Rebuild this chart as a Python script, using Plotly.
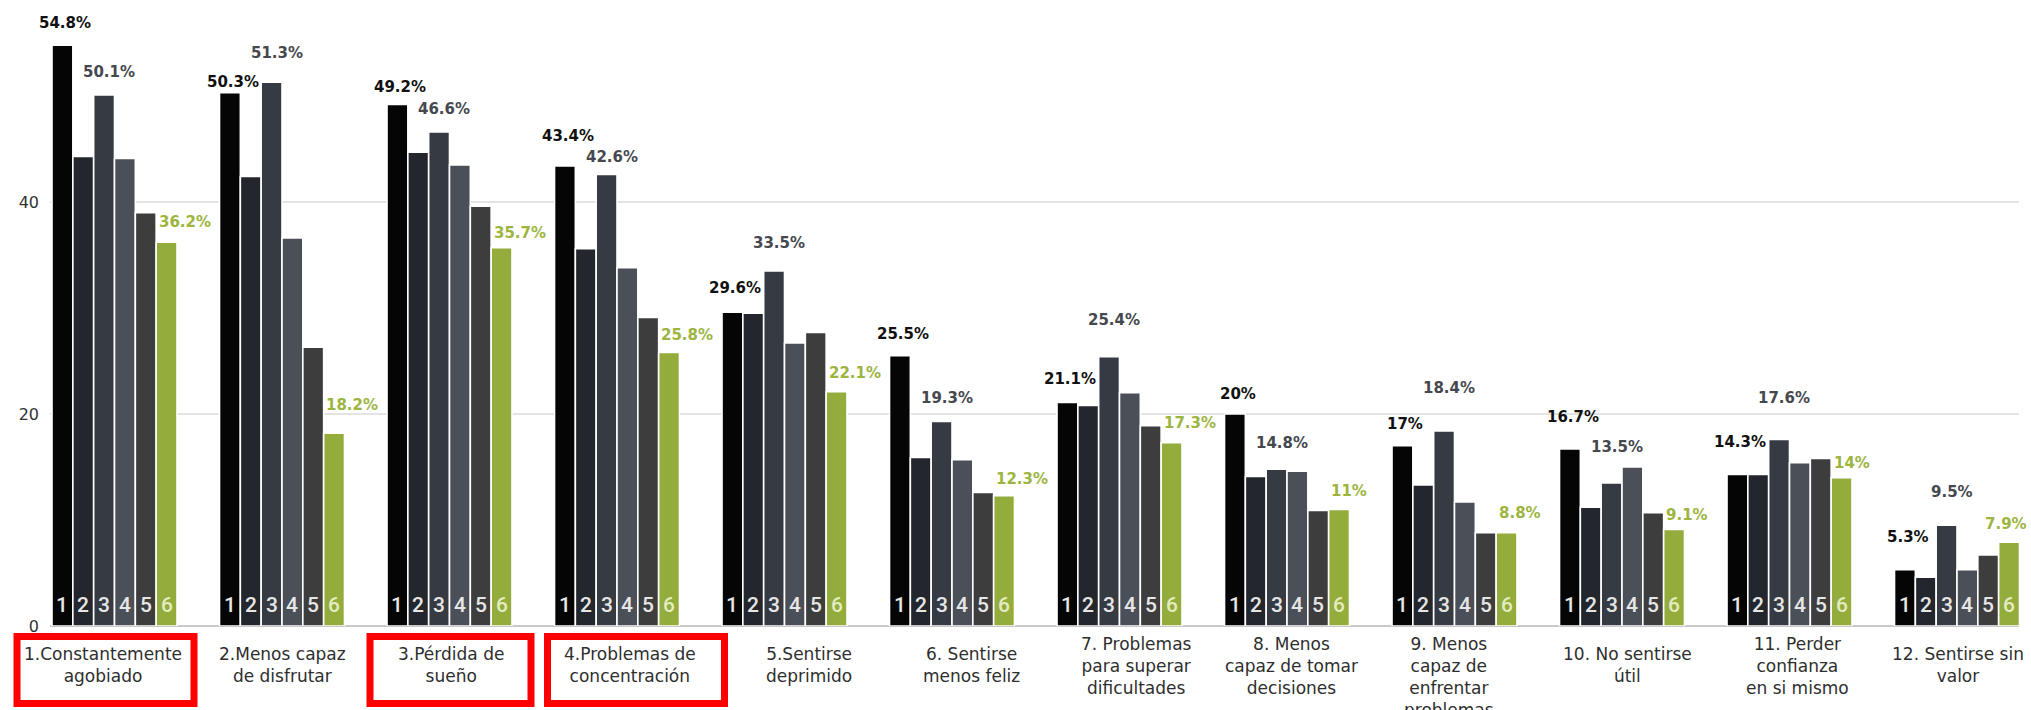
import plotly.graph_objects as go

# Twelve symptoms, six survey groups each (percent of respondents)
categories = [
    "1.Constantemente<br>agobiado",
    "2.Menos capaz<br>de disfrutar",
    "3.Pérdida de<br>sueño",
    "4.Problemas de<br>concentración",
    "5.Sentirse<br>deprimido",
    "6. Sentirse<br>menos feliz",
    "7. Problemas<br>para superar<br>dificultades",
    "8. Menos<br>capaz de tomar<br>decisiones",
    "9. Menos<br>capaz de<br>enfrentar<br>problemas",
    "10. No sentirse<br>útil",
    "11. Perder<br>confianza<br>en si mismo",
    "12. Sentirse sin<br>valor",
]
series_names = ["1", "2", "3", "4", "5", "6"]

group1 = [54.8, 50.3, 49.2, 43.4, 29.6, 25.5, 21.1, 20.0, 17.0, 16.7, 14.3, 5.3]
group2 = [44.3, 42.4, 44.7, 35.6, 29.5, 15.9, 20.8, 14.1, 13.3, 11.2, 14.3, 4.6]
group3 = [50.1, 51.3, 46.6, 42.6, 33.5, 19.3, 25.4, 14.8, 18.4, 13.5, 17.6, 9.5]
group4 = [44.1, 36.6, 43.5, 33.8, 26.7, 15.7, 22.0, 14.6, 11.7, 15.0, 15.4, 5.3]
group5 = [39.0, 26.3, 39.6, 29.1, 27.7, 12.6, 18.9, 10.9, 8.8, 10.7, 15.8, 6.7]
group6 = [36.2, 18.2, 35.7, 25.8, 22.1, 12.3, 17.3, 11.0, 8.8, 9.1, 14.0, 7.9]

y_ticks = [0, 20, 40]
highlighted = [0, 2, 3]  # categories framed in red

series = [group1, group2, group3, group4, group5, group6]
colors = ["#050505", "#23262c", "#363a42", "#4b4f57", "#3e3d3e", "#93ac3b"]
digit_colors = ["#e6e6e6"] * 5 + ["#e3ebc0"]

# How far (px) each value label floats above its bar
lift_s1 = [22, 11, 17, 30, 24, 22, 23, 20, 22, 32, 32, 33]
lift_s3 = [23, 29, 23, 17, 28, 23, 37, 26, 43, 36, 41, 33]
lift_s6 = [20, 28, 15, 18, 19, 17, 20, 18, 20, 15, 15, 18]

W, H = 2031, 710
ML, MR, MT, MB = 50, 12, 0, 84
plot_w = W - ML - MR
plot_h = H - MT - MB
step_px = 167.5                       # pixels per category
first_center_px = 114.5
x_min = (ML - first_center_px) / step_px
x_max = x_min + plot_w / step_px
y_max = plot_h / 10.6                 # 10.6 px per percentage point

bargap = 0.254
bar_w = (1 - bargap) / len(series)
x = list(range(len(categories)))

def bar_center(i, j):
    return i + (j - (len(series) - 1) / 2) * bar_w

def to_px(xv):
    return ML + (xv - x_min) / (x_max - x_min) * plot_w

VAL_SIZE = 15
CHAR_W = {".": 0.38, "%": 1.002}

def text_width(s):
    return sum(CHAR_W.get(c, 0.696) for c in s) * VAL_SIZE

fig = go.Figure()
for j, vals in enumerate(series):
    fig.add_trace(go.Bar(
        x=x, y=vals, name=series_names[j],
        marker=dict(color=colors[j], line=dict(color="white", width=1.6)),
        hoverinfo="skip",
    ))

ann = []
value_font = "DejaVu Sans"
for i in x:
    # Series numbers printed at the foot of every bar
    for j in range(len(series)):
        ann.append(dict(
            x=bar_center(i, j), y=0, xref="x", yref="y",
            text=series_names[j], showarrow=False,
            yanchor="middle", yshift=21,
            font=dict(family="Roboto", size=21,
                      color=digit_colors[j], weight=500),
        ))
    # Value labels for series 1, 3 and 6
    ann.append(dict(
        x=bar_center(i, 0), y=group1[i], xref="x", yref="y",
        text=f"{group1[i]:g}%", showarrow=False,
        yanchor="middle", yshift=lift_s1[i], xshift=3,
        font=dict(family=value_font, size=VAL_SIZE, color="#111111", weight="bold"),
    ))
    ann.append(dict(
        x=bar_center(i, 2), y=group3[i], xref="x", yref="y",
        text=f"{group3[i]:g}%", showarrow=False,
        yanchor="middle", yshift=lift_s3[i], xshift=5,
        font=dict(family=value_font, size=VAL_SIZE, color="#45484e", weight="bold"),
    ))
    txt6 = f"{group6[i]:g}%"
    left6 = to_px(bar_center(i, 5)) - 10
    shift6 = -10 - max(0, left6 + text_width(txt6) + 6 - W)
    ann.append(dict(
        x=bar_center(i, 5), y=group6[i], xref="x", yref="y",
        text=txt6, showarrow=False,
        xanchor="left", yanchor="middle", yshift=lift_s6[i], xshift=shift6,
        font=dict(family=value_font, size=VAL_SIZE, color="#9db53f", weight="bold"),
    ))

# Category names under each group
label_nudge = [-12, 0, 1, 13, 24, 19, 17, 4, -6, 5, 8, 1]
line_px = 20
for i, name in enumerate(categories):
    n = name.count("<br>") + 1
    first_line_mid = 665 - (min(n, 3) - 1) * line_px / 2
    top_px = first_line_mid - line_px / 2 - 3
    ann.append(dict(
        x=i, y=0, xref="x", yref="y", text=name, showarrow=False,
        xanchor="center", yanchor="top",
        yshift=-(top_px - (MT + plot_h)), xshift=label_nudge[i],
        align="center",
        font=dict(family="DejaVu Sans", size=17, color="#2e2e2e"),
    ))

# Red frames around the highlighted category names
box_w = {0: 184, 2: 168, 3: 184}
shapes = []
for i in highlighted:
    cx = (i - x_min) / (x_max - x_min)
    shift = label_nudge[i] + (3 if i == 0 else 0) + (6 if i == 3 else 0)
    half = box_w[i] / 2 - 3.5
    shapes.append(dict(
        type="rect", xref="paper", yref="paper",
        xsizemode="pixel", ysizemode="pixel",
        xanchor=cx, yanchor=0,
        x0=shift - half, x1=shift + half,
        y0=-(636.5 - (MT + plot_h)), y1=-(703.5 - (MT + plot_h)),
        line=dict(color="#ff0000", width=7),
        fillcolor="rgba(0,0,0,0)",
    ))

fig.update_layout(
    width=W, height=H,
    margin=dict(l=ML, r=MR, t=MT, b=MB, pad=0),
    barmode="group", bargap=bargap, bargroupgap=0,
    plot_bgcolor="white", paper_bgcolor="white",
    showlegend=False,
    annotations=ann, shapes=shapes,
    xaxis=dict(range=[x_min, x_max], showticklabels=False, showgrid=False,
               zeroline=False, showline=False, ticks=""),
    yaxis=dict(range=[0, y_max], tickvals=y_ticks, ticktext=[str(v) for v in y_ticks],
               showgrid=True, gridcolor="#e4e4e4", gridwidth=2,
               zeroline=True, zerolinecolor="#c9c9c9", zerolinewidth=2,
               ticks="", ticklabelstandoff=10,
               tickfont=dict(family="DejaVu Sans", size=16, color="#333333")),
)

fig.write_html("out.html")
